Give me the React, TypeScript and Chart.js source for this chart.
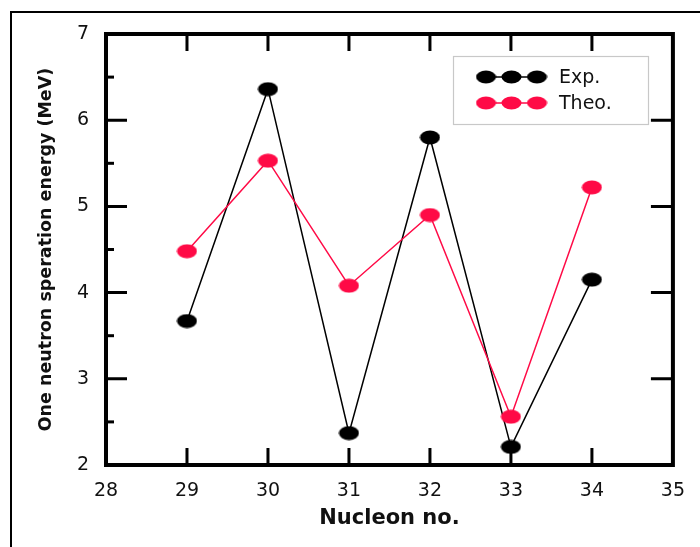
import React, { useEffect, useRef } from 'react';
import { Chart, registerables } from 'chart.js';

Chart.register(...registerables);

// ---- data ----
const nucleonNo = [29, 30, 31, 32, 33, 34];
const expValues = [3.67, 6.36, 2.37, 5.8, 2.21, 4.15];
const theoValues = [4.48, 5.53, 4.08, 4.9, 2.56, 5.22];
const xTickValues = [28, 29, 30, 31, 32, 33, 34, 35];
const yTickValues = [2, 3, 4, 5, 6, 7];
const seriesLabels = ['Exp.', 'Theo.'];
const xTitle = 'Nucleon no.';
const yTitle = 'One neutron speration energy (MeV)';

const EXP_COLOR = '#000000';
const THEO_COLOR = '#ff0a46';
const FONT = "'DejaVu Sans', 'Open Sans', sans-serif";

function ellipseImg(color: string, w: number, h: number) {
  const c = document.createElement('canvas');
  c.width = w;
  c.height = h;
  const g = c.getContext('2d')!;
  g.fillStyle = color;
  g.beginPath();
  g.ellipse(w / 2, h / 2, w / 2 - 0.5, h / 2 - 0.5, 0, 0, Math.PI * 2);
  g.fill();
  return c;
}

const axesPlugin = {
  id: 'innerAxes',
  beforeDatasetsDraw(chart: any) {
    const { ctx, chartArea, scales } = chart;
    const { left, right, top, bottom } = chartArea;
    const xs = scales.x;
    const ys = scales.y;
    ctx.save();
    ctx.strokeStyle = '#000';
    ctx.lineCap = 'butt';
    ctx.lineWidth = 3;
    xTickValues.slice(1, -1).forEach((v) => {
      const px = xs.getPixelForValue(v);
      ctx.beginPath();
      ctx.moveTo(px, bottom);
      ctx.lineTo(px, bottom - 17);
      ctx.moveTo(px, top);
      ctx.lineTo(px, top + 17);
      ctx.stroke();
    });
    yTickValues.slice(1, -1).forEach((v) => {
      const py = ys.getPixelForValue(v);
      ctx.beginPath();
      ctx.moveTo(left, py);
      ctx.lineTo(left + 21, py);
      ctx.moveTo(right, py);
      ctx.lineTo(right - 22, py);
      ctx.stroke();
    });
    yTickValues.slice(0, -1).forEach((v) => {
      const py = ys.getPixelForValue(v + 0.5);
      ctx.beginPath();
      ctx.moveTo(left, py);
      ctx.lineTo(left + 8, py);
      ctx.stroke();
    });
    ctx.lineWidth = 4;
    ctx.lineJoin = 'miter';
    ctx.strokeRect(left, top, right - left, bottom - top);
    ctx.restore();
  },
  afterDraw(chart: any) {
    const { ctx } = chart;
    ctx.save();
    // outer frame
    ctx.strokeStyle = '#000';
    ctx.lineWidth = 2;
    ctx.strokeRect(11, 12, 720, 560);
    // legend
    const bx = 453, by = 56, bw = 195, bh = 68;
    ctx.fillStyle = '#fff';
    ctx.fillRect(bx, by, bw, bh);
    ctx.strokeStyle = '#c8c8c8';
    ctx.lineWidth = 1.2;
    ctx.strokeRect(bx + 0.5, by + 0.5, bw, bh);
    const rows = [
      { label: seriesLabels[0], color: EXP_COLOR, y: 77 },
      { label: seriesLabels[1], color: THEO_COLOR, y: 103 },
    ];
    rows.forEach((r) => {
      const img = ellipseImg(r.color, 21, 14);
      ctx.strokeStyle = r.color;
      ctx.lineWidth = 1.5;
      ctx.beginPath();
      ctx.moveTo(486, r.y);
      ctx.lineTo(537, r.y);
      ctx.stroke();
      [486, 511.5, 537].forEach((cx) => {
        ctx.drawImage(img, cx - 10.5, r.y - 7);
      });
      ctx.fillStyle = '#111';
      ctx.font = `19px ${FONT}`;
      ctx.textBaseline = 'middle';
      ctx.textAlign = 'left';
      ctx.fillText(r.label, 559, r.y + 1);
    });
    ctx.restore();
  },
};

export default function App() {
  const ref = useRef<HTMLCanvasElement | null>(null);
  useEffect(() => {
    document.body.style.margin = '0';
    const expImg = ellipseImg(EXP_COLOR, 21, 15);
    const theoImg = ellipseImg(THEO_COLOR, 21, 15);
    const chart = new Chart(ref.current!, {
      type: 'line',
      data: {
        datasets: [
          {
            label: seriesLabels[1],
            data: nucleonNo.map((x, i) => ({ x, y: theoValues[i] })),
            borderColor: THEO_COLOR,
            borderWidth: 1.5,
            pointStyle: theoImg as any,
            pointRadius: 8,
            pointHoverRadius: 8,
            tension: 0,
            order: 1,
          },
          {
            label: seriesLabels[0],
            data: nucleonNo.map((x, i) => ({ x, y: expValues[i] })),
            borderColor: EXP_COLOR,
            borderWidth: 1.5,
            pointStyle: expImg as any,
            pointRadius: 8,
            pointHoverRadius: 8,
            tension: 0,
            order: 2,
          },
        ],
      },
      options: {
        animation: false,
        responsive: false,
        devicePixelRatio: 1,
        layout: { padding: { left: 0, top: 34, right: 25, bottom: 0 } },
        plugins: {
          legend: { display: false },
          tooltip: { enabled: false },
        },
        scales: {
          x: {
            type: 'linear',
            min: 28,
            max: 35,
            afterBuildTicks: (s: any) => {
              s.ticks = xTickValues.map((v) => ({ value: v }));
            },
            afterFit: (s: any) => {
              s.height = 82;
            },
            grid: { display: false, drawTicks: false },
            border: { display: false },
            ticks: {
              padding: 15,
              color: '#111',
              font: { family: FONT, size: 19 },
              maxRotation: 0,
            },
            title: {
              display: true,
              text: xTitle,
              color: '#111',
              font: { family: FONT, size: 21, weight: 'bold' },
              padding: { top: 0, bottom: 16 },
            },
          },
          y: {
            type: 'linear',
            min: 2,
            max: 7,
            afterBuildTicks: (s: any) => {
              s.ticks = yTickValues.map((v) => ({ value: v }));
            },
            afterFit: (s: any) => {
              s.width = 106;
            },
            grid: { display: false, drawTicks: false },
            border: { display: false },
            ticks: {
              padding: 17,
              color: '#111',
              font: { family: FONT, size: 19 },
            },
            title: {
              display: true,
              text: yTitle,
              color: '#111',
              font: { family: FONT, size: 17.5, weight: 'bold' },
              padding: { top: 36, bottom: 0 },
            },
          },
        },
      },
      plugins: [axesPlugin],
    } as any);
    return () => chart.destroy();
  }, []);
  return (
    <div style={{ width: 700, height: 547, position: 'relative', background: '#fff' }}>
      <canvas ref={ref} width={700} height={547} style={{ display: 'block' }} />
    </div>
  );
}
